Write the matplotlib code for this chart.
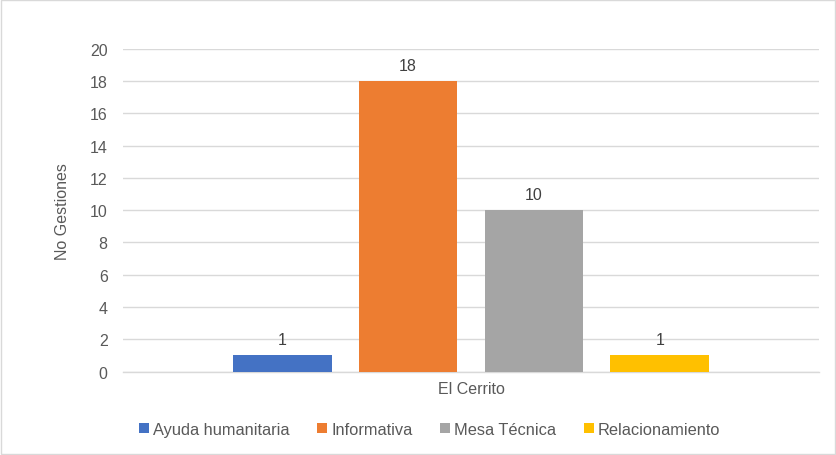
import matplotlib.pyplot as plt
from matplotlib.patches import Rectangle

categorias = ["Ayuda humanitaria", "Informativa", "Mesa Técnica", "Relacionamiento"]
valores = [1, 18, 10, 1]
colores = ["#4472C4", "#ED7D31", "#A5A5A5", "#FFC000"]
grupo = "El Cerrito"
yticks = list(range(0, 21, 2))

plt.rcParams["font.family"] = ["Liberation Sans", "DejaVu Sans"]
TXT = "#595959"
FS = 11.5

fig = plt.figure(figsize=(8.36, 4.56), dpi=100)
ax = fig.add_axes([0.1471, 0.1831, 0.8326, 0.7073])

ancho = 0.1422
paso = 0.181
n = len(valores)
for i, (cat, v, c) in enumerate(zip(categorias, valores, colores)):
    x = 0.5 + (i - (n - 1) / 2) * paso
    ax.bar(x, v, width=ancho, color=c, label=cat, zorder=3)
    ax.annotate(str(v), (x, v), xytext=(0, 6), textcoords="offset points",
                ha="center", va="bottom", fontsize=FS, color="#404040")

ax.set_xlim(0, 1)
ax.set_ylim(0, 20)
ax.set_yticks(yticks)
ax.set_xticks([0.5])
ax.set_xticklabels([grupo])
ax.tick_params(axis="both", length=0, labelsize=FS, colors=TXT)
ax.tick_params(axis="y", pad=11)
ax.tick_params(axis="x", pad=7)
ax.grid(axis="y", color="#D9D9D9", linewidth=1, zorder=0)
for s in ["top", "right", "left"]:
    ax.spines[s].set_visible(False)
ax.spines["bottom"].set_color("#D9D9D9")
ax.spines["bottom"].set_linewidth(1)
ax.set_ylabel("No Gestiones", fontsize=FS, color=TXT, labelpad=14)

fig.legend(loc="center", bbox_to_anchor=(0.514, 0.057), bbox_transform=fig.transFigure,
           ncol=4, frameon=False, fontsize=11.8, labelcolor=TXT,
           handlelength=0.6, handleheight=0.6, handletextpad=0.25, columnspacing=1.7)

fig.patches.append(Rectangle((0.0015, 0.002), 0.997, 0.996, transform=fig.transFigure,
                             fill=False, edgecolor="#D9D9D9", linewidth=1))

fig.savefig("out.png", dpi=100)
